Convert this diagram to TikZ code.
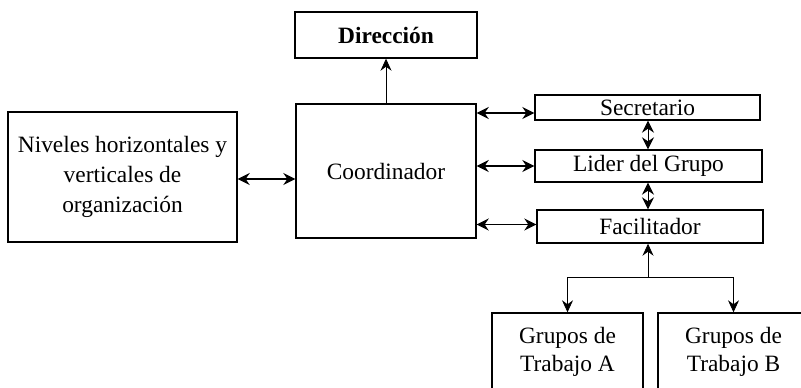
\documentclass[tikz,border=0pt]{standalone}
\usepackage{fontspec}
\setmainfont{Liberation Serif}
\usetikzlibrary{arrows.meta}
\tikzset{
    box/.style={draw, line width=0.7pt, align=center, inner sep=0pt,
        font=\fontsize{11.7}{14}\selectfont},
    dbl/.style={{Stealth[length=6pt,width=6pt,inset=2pt]}-{Stealth[length=6pt,width=6pt,inset=2pt]}, line width=0.8pt},
    up/.style={-{Stealth[length=6pt,width=5.5pt,inset=2pt]}, line width=0.4pt}
}
\begin{document}
\begin{tikzpicture}[x=0.5pt, y=-0.5pt]
    \useasboundingbox (0,0) rectangle (801,387);
    \clip (0,0) rectangle (801,387);
    % Boxes
    \node[box, minimum width=91pt, minimum height=23pt, font=\fontsize{11.7}{14}\selectfont\bfseries] (dir) at (386,35) {Dirección};
    \node[box, minimum width=90pt, minimum height=67pt] (coord) at (386,171) {Coordinador};
    \node[box, minimum width=114.5pt, minimum height=65pt, font=\fontsize{11.7}{15}\selectfont] (niveles) at (122.5,177) {Niveles horizontales y\\verticales de\\organización};
    \node[box, minimum width=112.5pt, minimum height=12.5pt] (secre) at (647.5,107.5) {Secretario};
    \node[box, minimum width=113.5pt, minimum height=16pt] (lider) at (648.5,166) {Lider del Grupo};
    \node[box, minimum width=113pt, minimum height=16.5pt] (facil) at (650,226.5) {Facilitador};
    \node[box, minimum width=75.5pt, minimum height=39pt] (grupoA) at (567.5,352) {Grupos de\\Trabajo A};
    \node[box, minimum width=75.5pt, minimum height=39pt] (grupoB) at (733.5,352) {Grupos de\\Trabajo B};
    % Coordinador links
    \draw[up] (coord.north) -- (dir.south);
    \draw[dbl] (niveles.east |- 0,179) -- (coord.west |- 0,179);
    \draw[dbl] ([yshift=-2.75pt]coord.east |- secre.west) -- ([yshift=-2.75pt]secre.west);
    \draw[dbl] (coord.east |- lider.west) -- (lider.west);
    \draw[dbl] ([yshift=1pt]coord.east |- facil.west) -- ([yshift=1pt]facil.west);
    % Right-hand column
    \draw[dbl, line width=0.5pt] (secre.south -| 648,0) coordinate (s1) -- (s1 |- lider.north);
    \draw[dbl, line width=0.5pt] (lider.south -| 648,0) coordinate (l1) -- (l1 |- facil.north);
    % Groups
    \coordinate (bus) at (648,277);
    \draw[up] (bus) -- (bus |- facil.south);
    \draw[line width=0.4pt] (bus -| grupoA) -- (bus -| grupoB);
    \draw[up] (bus -| grupoA) -- (grupoA.north);
    \draw[up] (bus -| grupoB) -- (grupoB.north);
\end{tikzpicture}
\end{document}
